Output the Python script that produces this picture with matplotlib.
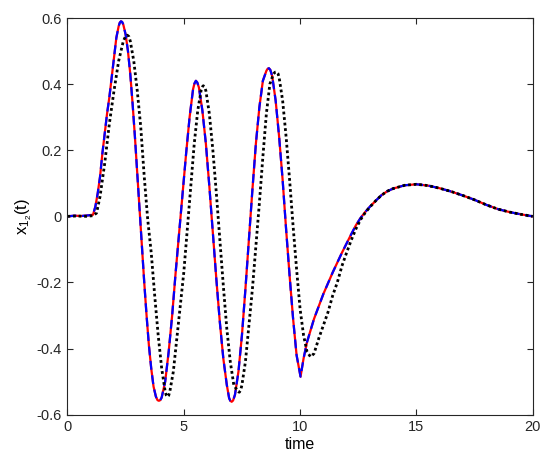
"""Recreate the x_{1_2}(t) trajectory comparison plot (MATLAB-style)."""
import matplotlib
matplotlib.use("Agg")
import matplotlib.pyplot as plt
from matplotlib.ticker import FuncFormatter

# red solid / blue dashed curves (they sit on top of each other)
t_sol = [0, 0.3, 0.6, 0.9, 1.1, 1.2, 1.3, 1.4, 1.5, 1.6, 1.7, 1.8, 1.9, 2.0, 2.1,
         2.2, 2.25, 2.3, 2.35, 2.4, 2.5, 2.6, 2.7, 2.8, 2.9, 3.0, 3.1, 3.2, 3.3,
         3.4, 3.5, 3.6, 3.7, 3.8, 3.87, 3.93, 3.99, 4.05, 4.2, 4.35, 4.5, 4.65,
         4.8, 4.95, 5.1, 5.25, 5.4, 5.46, 5.52, 5.58, 5.65, 5.8, 5.95, 6.1, 6.25,
         6.4, 6.55, 6.7, 6.85, 6.95, 7.0, 7.06, 7.12, 7.2, 7.35, 7.5, 7.65, 7.8,
         7.95, 8.1, 8.25, 8.4, 8.55, 8.6, 8.66, 8.72, 8.8, 8.95, 9.1, 9.25, 9.4,
         9.55, 9.7, 9.85, 10.02, 10.15, 10.3, 10.6, 11.0, 11.4, 11.8, 12.2, 12.4,
         12.6, 12.8, 13.0, 13.25, 13.5, 13.75, 14.0, 14.5, 15.0, 15.5, 16.0, 16.5,
         17.0, 17.5, 18.0, 18.5, 19.0, 19.5, 20.0]
x_red = [0.0, 0.002, 0.001, 0.003, 0.005, 0.03, 0.07, 0.12, 0.19, 0.25, 0.31, 0.36,
         0.42, 0.48, 0.54, 0.575, 0.586, 0.59, 0.588, 0.58, 0.55, 0.50, 0.43,
         0.34, 0.24, 0.13, 0.02, -0.09, -0.20, -0.30, -0.39, -0.46, -0.515,
         -0.545, -0.556, -0.558, -0.556, -0.548, -0.50, -0.41, -0.30, -0.17, -0.05,
         0.07, 0.19, 0.30, 0.385, 0.402, 0.41, 0.405, 0.39, 0.32, 0.22, 0.09,
         -0.05, -0.19, -0.32, -0.43, -0.51, -0.55, -0.558, -0.561, -0.557, -0.54,
         -0.47, -0.36, -0.22, -0.07, 0.08, 0.22, 0.33, 0.41, 0.44, 0.446, 0.448,
         0.443, 0.425, 0.35, 0.24, 0.11, -0.04, -0.18, -0.31, -0.42, -0.485,
         -0.43, -0.38, -0.31, -0.235, -0.17, -0.11, -0.054, -0.027, -0.005, 0.013,
         0.029, 0.047, 0.064, 0.076, 0.084, 0.094, 0.097, 0.093, 0.085, 0.075,
         0.063, 0.05, 0.035, 0.022, 0.013, 0.006, 0.0]
x_blue = list(x_red)

# black dotted curve (lags the others)
t_dot = [0, 0.4, 0.8, 1.1, 1.25, 1.4, 1.6, 1.8, 2.0, 2.2, 2.4, 2.5, 2.57, 2.64,
         2.7, 2.85, 3.0, 3.15, 3.3, 3.45, 3.6, 3.75, 3.9, 4.05, 4.2, 4.25, 4.29,
         4.35, 4.4, 4.55, 4.7, 4.85, 5.0, 5.15, 5.3, 5.45, 5.6, 5.75, 5.8, 5.84,
         5.9, 5.95, 6.1, 6.25, 6.4, 6.55, 6.7, 6.85, 7.0, 7.15, 7.3, 7.35, 7.39,
         7.45, 7.5, 7.65, 7.8, 7.95, 8.1, 8.25, 8.4, 8.55, 8.7, 8.85, 8.92, 8.99,
         9.05, 9.1, 9.25, 9.4, 9.55, 9.7, 9.85, 10.0, 10.15, 10.3, 10.45, 10.6,
         10.8, 11.0, 11.2, 11.4, 11.6, 11.8, 12.0, 12.2, 12.4, 12.6, 12.8, 13.0,
         13.25, 13.5, 13.75, 14.0, 14.5, 15.0, 15.5, 16.0, 16.5, 17.0, 17.5, 18.0,
         18.5, 19.0, 19.5, 20.0]
x_dot = [0.0, 0.001, 0.0, 0.002, 0.01, 0.06, 0.16, 0.28, 0.38, 0.47, 0.53, 0.545,
         0.548, 0.544, 0.53, 0.47, 0.38, 0.27, 0.12, -0.01, -0.11, -0.24, -0.36,
         -0.46, -0.53, -0.542, -0.546, -0.542, -0.53, -0.47, -0.37, -0.27, -0.17,
         -0.04, 0.09, 0.22, 0.32, 0.383, 0.392, 0.395, 0.39, 0.38, 0.31, 0.20,
         0.07, -0.07, -0.21, -0.34, -0.44, -0.51, -0.527, -0.531, -0.532, -0.525,
         -0.51, -0.44, -0.33, -0.22, -0.09, 0.04, 0.18, 0.31, 0.40, 0.43, 0.436,
         0.437, 0.432, 0.42, 0.35, 0.24, 0.11, -0.03, -0.16, -0.28, -0.36, -0.41,
         -0.425, -0.415, -0.37, -0.33, -0.29, -0.24, -0.20, -0.15, -0.11, -0.072,
         -0.038, -0.01, 0.011, 0.028, 0.047, 0.064, 0.076, 0.084, 0.094, 0.097,
         0.093, 0.085, 0.075, 0.063, 0.05, 0.035, 0.022, 0.013, 0.006, 0.0]

x_ticks = [0, 5, 10, 15, 20]
y_ticks = [-0.6, -0.4, -0.2, 0, 0.2, 0.4, 0.6]


def main() -> None:
    plt.rcParams["font.family"] = ["Liberation Sans", "DejaVu Sans"]
    plt.rcParams["mathtext.fontset"] = "custom"
    plt.rcParams["mathtext.rm"] = "Liberation Sans"
    plt.rcParams["mathtext.it"] = "Liberation Sans"

    fig = plt.figure(figsize=(5.5, 4.7), dpi=100)
    ax = fig.add_axes([0.1227, 0.1177, 0.8458, 0.844])

    ax.plot(t_sol, x_red, color="r", lw=1.6, solid_joinstyle="round")
    ax.plot(t_sol, x_blue, color="b", lw=1.6, dashes=(4, 2.5))
    ax.plot(t_dot, x_dot, color="k", lw=2.0, dashes=(1, 1))

    ax.set_xlim(0, 20)
    ax.set_ylim(-0.6, 0.6)
    ax.set_xticks(x_ticks)
    ax.set_yticks(y_ticks)
    ax.yaxis.set_major_formatter(FuncFormatter(lambda v, _: "0" if abs(v) < 1e-9 else f"{v:g}"))

    edge = "#262626"
    for s in ax.spines.values():
        s.set_color(edge)
        s.set_linewidth(0.8)
    ax.tick_params(direction="in", top=True, right=True, length=4, width=0.8,
                   colors=edge, labelsize=10.5, pad=4)

    ax.set_xlabel("time", fontsize=11.5, labelpad=2)
    ax.set_ylabel(r"$\mathregular{x_{1_2}(t)}$", fontsize=12, labelpad=2)

    fig.savefig("out.png", dpi=100)
    plt.close(fig)


if __name__ == "__main__":
    main()
